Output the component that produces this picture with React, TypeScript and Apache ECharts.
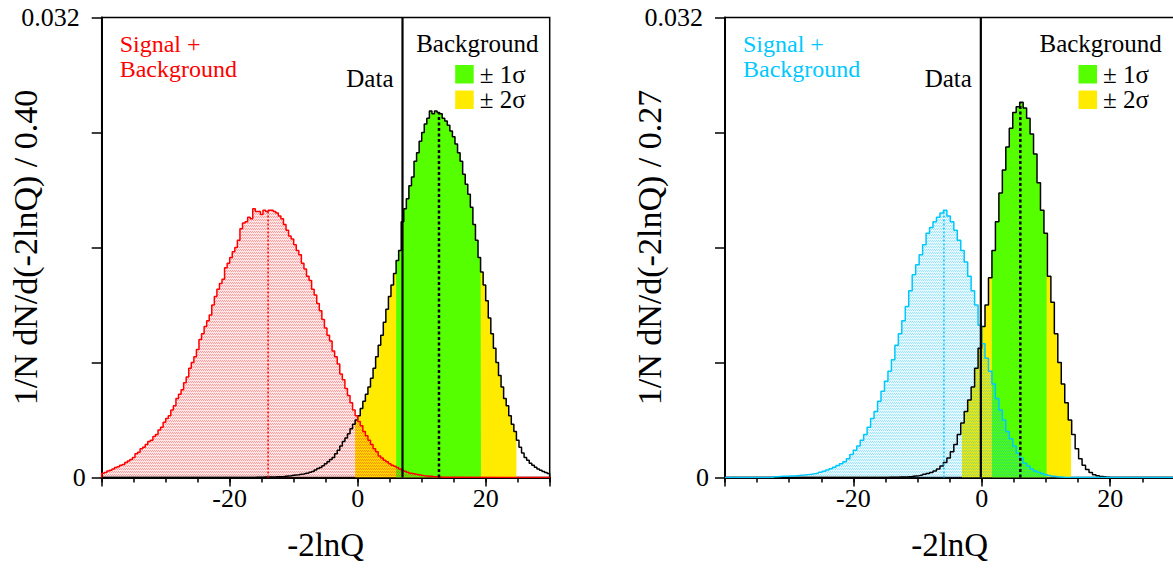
import React, { useEffect, useRef } from "react";
import * as echarts from "echarts";

const FONT = "Liberation Serif";
const X_MIN = -40;
const X_MAX = 30;
const Y_MAX = 0.032;
const Y_STEP = 0.008;
const UNIT = 1e-4; // histogram contents below are written in units of 1e-4

const xTickLabels = [-20, 0, 20];
const yTickLabels = [0, 0.032];
const xTitle = "-2lnQ";

// ---------- left panel: bin width 0.40 ----------
const binLeft = 0.4;
const sbLeftStart = -40;
const sbLeft = [
  3, 3.5, 4.5, 5, 6, 7, 7.5, 8.5, 9, 10.5,
  11.5, 12.5, 14, 16.5, 17.5, 20, 21, 23, 25, 26,
  28.5, 30, 33, 35, 38.5, 41, 43, 47, 50, 55,
  58, 61, 66, 70, 76, 80, 84, 89, 96, 100,
  105, 109, 113, 120, 126, 131, 135, 138, 146, 149,
  153, 157, 160, 165, 173, 177, 178, 181, 180, 187,
  185, 185, 183, 186, 185, 186, 186, 185, 184, 182,
  180, 176, 172, 168, 166, 162, 158, 155, 149, 145,
  140, 137, 131, 127, 121, 116, 110, 104, 99, 95,
  88, 84, 79, 72, 68, 62, 57, 52, 47, 43,
  39, 36, 32, 29, 26, 23, 20, 18, 15, 13.5,
  12, 11, 9.5, 8.5, 7.8, 7, 6, 5, 4.3, 3.6,
  3, 2.6, 2.2, 1.9, 1.6, 1.3, 1.1, 0.9, 0.8, 0.6,
  0.5, 0.4, 0.3, 0.25, 0.2, 0.15, 0.1, 0.1,
];
const bLeftStart = -16;
const bLeft = [
  0.2, 0.2, 0.25, 0.3, 0.3, 0.35, 0.4, 0.4, 0.5, 0.5,
  0.6, 0.8, 1.0, 1.2, 1.5, 1.7, 1.9, 2.2, 2.5, 2.9,
  3.2, 3.7, 4.2, 5.2, 6.2, 7.0, 8.2, 9.5, 11, 12.5,
  14, 16.5, 19, 22, 25, 27.5, 30.5, 34, 37, 40,
  43, 48, 53, 58, 63, 69, 76, 84, 92, 99,
  108, 117, 126, 134, 142, 151, 158, 178, 187, 194,
  203, 209, 220, 226, 234, 240, 246, 250, 255, 253,
  255, 254, 253, 250, 248, 245, 241, 237, 232, 226,
  220, 211, 204, 197, 188, 176, 165, 153, 143, 134,
  123, 111, 100, 90, 80, 71, 63, 55, 50, 43,
  37, 32, 26, 21, 17, 14, 12, 10, 8.5, 7.2,
  6, 5, 4.2, 3.4, 2.8,
];
const dataLeft = 7.0;
const sbMedianLeft = -14.0;
const bMedianLeft = 12.7;
const oneSigmaLeft = [6.0, 19.27];
const twoSigmaLeft = [-0.42, 24.8];

// ---------- right panel: drawn with 0.54-wide steps ----------
const binRight = 0.54;
const sbRightStart = -32.44;
const sbRight = [
  0.5, 0.7, 0.8, 0.9, 1.0, 1.1, 1.3, 1.5, 1.7, 2.0,
  2.3, 2.7, 3.1, 3.7, 4.4, 5.2, 6.1, 7.1, 8.3, 9.6,
  11, 13, 16, 19, 22, 26, 30, 35, 41, 46,
  53, 60, 67, 74, 82, 92, 100, 109, 119, 130,
  141, 148, 155, 162, 170, 174, 178, 181, 184, 186,
  182, 178, 172, 165, 158, 150, 140, 130, 120, 106,
  93, 83, 74, 65, 55, 47, 40, 32, 27, 22,
  17, 13.5, 10, 8, 6, 4.5, 3.6, 2.8, 1.9, 1.4,
  0.9, 0.6, 0.4, 0.2,
];
const bRightStart = -14.62;
const bRight = [
  0.1, 0.15, 0.2, 0.3, 0.4, 0.5, 0.7, 1.0, 1.3, 1.7,
  2.2, 2.8, 3.5, 4.5, 6, 8, 10.5, 13.5, 18, 23,
  30, 38, 46, 54, 63, 76, 90, 105, 120, 139,
  158, 178, 198, 214, 230, 243, 254, 258, 261, 257,
  250, 239, 225, 205, 186, 170, 140, 122, 100, 80,
  65, 52, 40, 30, 20, 13, 8.5, 5.5, 3.5, 2,
  1.2, 0.7, 0.4, 0.2,
];
const dataRight = -0.15;
const sbMedianRight = -5.9;
const bMedianRight = 6.0;
const oneSigmaRight = [1.56, 10.1];
const twoSigmaRight = [-3.1, 13.9];

type Panel = {
  bin: number;
  sbStart: number;
  sb: number[];
  bStart: number;
  b: number[];
  data: number;
  sbMedian: number;
  bMedian: number;
  one: number[];
  two: number[];
  sbColor: string;
  sbRgb: string;
  yName: string;
  grid: { left: number; width: number };
};

const panels: Panel[] = [
  {
    bin: binLeft, sbStart: sbLeftStart, sb: sbLeft, bStart: bLeftStart, b: bLeft,
    data: dataLeft, sbMedian: sbMedianLeft, bMedian: bMedianLeft,
    one: oneSigmaLeft, two: twoSigmaLeft,
    sbColor: "#ff0000", sbRgb: "255,0,0",
    yName: "1/N dN/d(-2lnQ) / 0.40",
    grid: { left: 101.7, width: 448 },
  },
  {
    bin: binRight, sbStart: sbRightStart, sb: sbRight, bStart: bRightStart, b: bRight,
    data: dataRight, sbMedian: sbMedianRight, bMedian: bMedianRight,
    one: oneSigmaRight, two: twoSigmaRight,
    sbColor: "#00c8ff", sbRgb: "0,190,255",
    yName: "1/N dN/d(-2lnQ) / 0.27",
    grid: { left: 725, width: 449.4 },
  },
];

const binIndex = (start: number, bin: number, n: number, x: number) =>
  Math.min(n - 1, Math.max(0, Math.floor((x - start) / bin)));

// step outline of a histogram, running along zero outside its filled range
function histPoints(start: number, bin: number, vals: number[]) {
  const pts: number[][] = [[X_MIN, 0]];
  vals.forEach((v, k) => pts.push([start + k * bin, v * UNIT]));
  pts.push([start + vals.length * bin, 0]);
  pts.push([X_MAX, 0]);
  return pts;
}

// part of a histogram between a and b (for the shaded sigma bands)
function bandPoints(start: number, bin: number, vals: number[], a: number, b: number) {
  const n = vals.length;
  const pts: number[][] = [[a, vals[binIndex(start, bin, n, a)] * UNIT]];
  for (let k = Math.floor((a - start) / bin) + 1; start + k * bin < b && k < n; k++) {
    pts.push([start + k * bin, vals[k] * UNIT]);
  }
  pts.push([b, vals[binIndex(start, bin, n, b - 1e-9)] * UNIT]);
  return pts;
}

function heightAt(start: number, bin: number, vals: number[], x: number) {
  return vals[binIndex(start, bin, vals.length, x)] * UNIT;
}

function hatch(rgb: string) {
  const c = document.createElement("canvas");
  c.width = 2;
  c.height = 3;
  const g = c.getContext("2d")!;
  g.fillStyle = `rgba(${rgb},0.10)`;
  g.fillRect(0, 0, 2, 3);
  g.fillStyle = `rgba(${rgb},0.32)`;
  g.fillRect(0, 0, 1, 1);
  g.fillRect(1, 1, 1, 1);
  return { image: c, repeat: "repeat" };
}

export default function App() {
  const ref = useRef<HTMLDivElement>(null);

  useEffect(() => {
    if (!ref.current) return;
    const chart = echarts.init(ref.current, undefined, { renderer: "svg" });

    const grids: any[] = [];
    const xAxes: any[] = [];
    const yAxes: any[] = [];
    const series: any[] = [];

    panels.forEach((p, gi) => {
      grids.push({
        left: p.grid.left, top: 17.5, width: p.grid.width, height: 460,
        outerBoundsMode: "none", containLabel: false,
        show: true, borderColor: "#000", borderWidth: 1.5, backgroundColor: "transparent",
      });
      // short ticks every 5
      xAxes.push({
        gridIndex: gi, type: "value", min: X_MIN, max: X_MAX, interval: 5, position: "bottom",
        axisLine: { show: true, lineStyle: { color: "#000", width: 2 } },
        axisTick: { show: true, length: 5, lineStyle: { color: "#000", width: 1.5 } },
        axisLabel: { show: false }, splitLine: { show: false },
      });
      // long ticks, labels and title every 20
      xAxes.push({
        gridIndex: gi, type: "value", min: X_MIN, max: X_MAX, interval: 20, position: "bottom",
        axisLine: { show: true, lineStyle: { color: "#000", width: 2 } },
        axisTick: { show: true, length: 9, lineStyle: { color: "#000", width: 1.5 } },
        axisLabel: {
          formatter: (v: number) => (xTickLabels.includes(v) ? String(v) : ""),
          fontSize: 26, fontFamily: FONT, color: "#000", margin: 8,
        },
        splitLine: { show: false },
        name: xTitle, nameLocation: "middle", nameGap: 51, nameMoveOverlap: false,
        nameTextStyle: { fontSize: 33, fontFamily: FONT, color: "#000" },
      });
      yAxes.push({
        gridIndex: gi, type: "value", min: 0, max: Y_MAX, interval: Y_STEP,
        axisLine: { show: true, onZero: false, lineStyle: { color: "#000", width: 2 } },
        axisTick: { show: true, length: 10, lineStyle: { color: "#000", width: 1.5 } },
        axisLabel: {
          formatter: (v: number) => {
            const hit = yTickLabels.find((t) => Math.abs(t - v) < 1e-9);
            if (hit === undefined) return "";
            return hit > 0 ? `{top|${hit}}` : String(hit);
          },
          rich: { top: { fontSize: 26, fontFamily: FONT, color: "#000", padding: [0, 6, 0, 0] } },
          fontSize: 26, fontFamily: FONT, color: "#000", margin: 16,
        },
        splitLine: { show: false },
        name: p.yName, nameLocation: "middle", nameRotate: 90, nameGap: 59, nameMoveOverlap: false,
        nameTextStyle: { fontSize: 34, fontFamily: FONT, color: "#000" },
      });

      const xi = gi * 2 + 1;
      const common = { xAxisIndex: xi, yAxisIndex: gi, type: "line", symbol: "none", silent: true, step: "end" };
      series.push({
        ...common, name: `two-sigma-${gi}`,
        data: bandPoints(p.bStart, p.bin, p.b, p.two[0], p.two[1]),
        lineStyle: { width: 0, opacity: 0 },
        areaStyle: { color: "#ffeb00", opacity: 1 },
      });
      series.push({
        ...common, name: `one-sigma-${gi}`,
        data: bandPoints(p.bStart, p.bin, p.b, p.one[0], p.one[1]),
        lineStyle: { width: 0, opacity: 0 },
        areaStyle: { color: "#55ff00", opacity: 1 },
      });
      series.push({
        ...common, name: `background-${gi}`,
        data: histPoints(p.bStart, p.bin, p.b),
        lineStyle: { color: "#000", width: 1.5 },
      });
      series.push({
        ...common, name: `signal-background-${gi}`,
        data: histPoints(p.sbStart, p.bin, p.sb),
        lineStyle: { color: p.sbColor, width: 1.5 },
        areaStyle: { color: hatch(p.sbRgb), opacity: 1 },
      });
      series.push({
        xAxisIndex: xi, yAxisIndex: gi, type: "line", symbol: "none", silent: true,
        name: `sb-median-${gi}`,
        data: [[p.sbMedian, 0], [p.sbMedian, heightAt(p.sbStart, p.bin, p.sb, p.sbMedian)]],
        lineStyle: { color: p.sbColor, width: 1.5, type: [2, 2] },
      });
      series.push({
        xAxisIndex: xi, yAxisIndex: gi, type: "line", symbol: "none", silent: true,
        name: `b-median-${gi}`,
        data: [[p.bMedian, 0], [p.bMedian, heightAt(p.bStart, p.bin, p.b, p.bMedian)]],
        lineStyle: { color: "#000", width: 2.5, type: [3, 2.5] },
      });
      series.push({
        xAxisIndex: xi, yAxisIndex: gi, type: "line", symbol: "none", silent: true,
        name: `data-${gi}`,
        data: [[p.data, 0], [p.data, Y_MAX]],
        lineStyle: { color: "#000", width: 2.2 },
      });
    });

    chart.setOption({
      animation: false,
      backgroundColor: "#ffffff",
      grid: grids,
      xAxis: xAxes,
      yAxis: yAxes,
      series,
    });

    // legend texts and swatches, placed relative to each frame and data line
    const graphic: any[] = [];
    const txt = (x: number, y: number, text: string, fill: string, align = "left", extra: any = {}) => ({
      type: "text", x, y, silent: true,
      style: { text, fill, fontSize: 25, fontFamily: FONT, textAlign: align, textVerticalAlign: "middle", ...extra },
    });
    panels.forEach((p, gi) => {
      const gx = p.grid.left;
      const dataPx = chart.convertToPixel({ xAxisIndex: gi * 2 + 1, yAxisIndex: gi }, [p.data, 0])[0];
      graphic.push(
        txt(gx + 18, 31, "Signal +\nBackground", p.sbColor, "left", {
          textVerticalAlign: "top", fontSize: 24, lineHeight: 25,
        })
      );
      graphic.push(txt(gx + 314.5, 43, "Background", "#000"));
      graphic.push(txt(dataPx - 9, 78, "Data", "#000", "right"));
      graphic.push({ type: "rect", silent: true, shape: { x: gx + 353.5, y: 65, width: 18.5, height: 18.5 }, style: { fill: "#55ff00" } });
      graphic.push({ type: "rect", silent: true, shape: { x: gx + 353.5, y: 90.5, width: 18.5, height: 18.5 }, style: { fill: "#ffeb00" } });
      graphic.push(txt(gx + 378, 74, "± 1σ", "#000"));
      graphic.push(txt(gx + 378, 99.5, "± 2σ", "#000"));
    });
    chart.setOption({ graphic });

    return () => chart.dispose();
  }, []);

  return (
    <div
      ref={ref}
      style={{ position: "fixed", left: 0, top: 0, width: 1173, height: 571, background: "#fff" }}
    />
  );
}
